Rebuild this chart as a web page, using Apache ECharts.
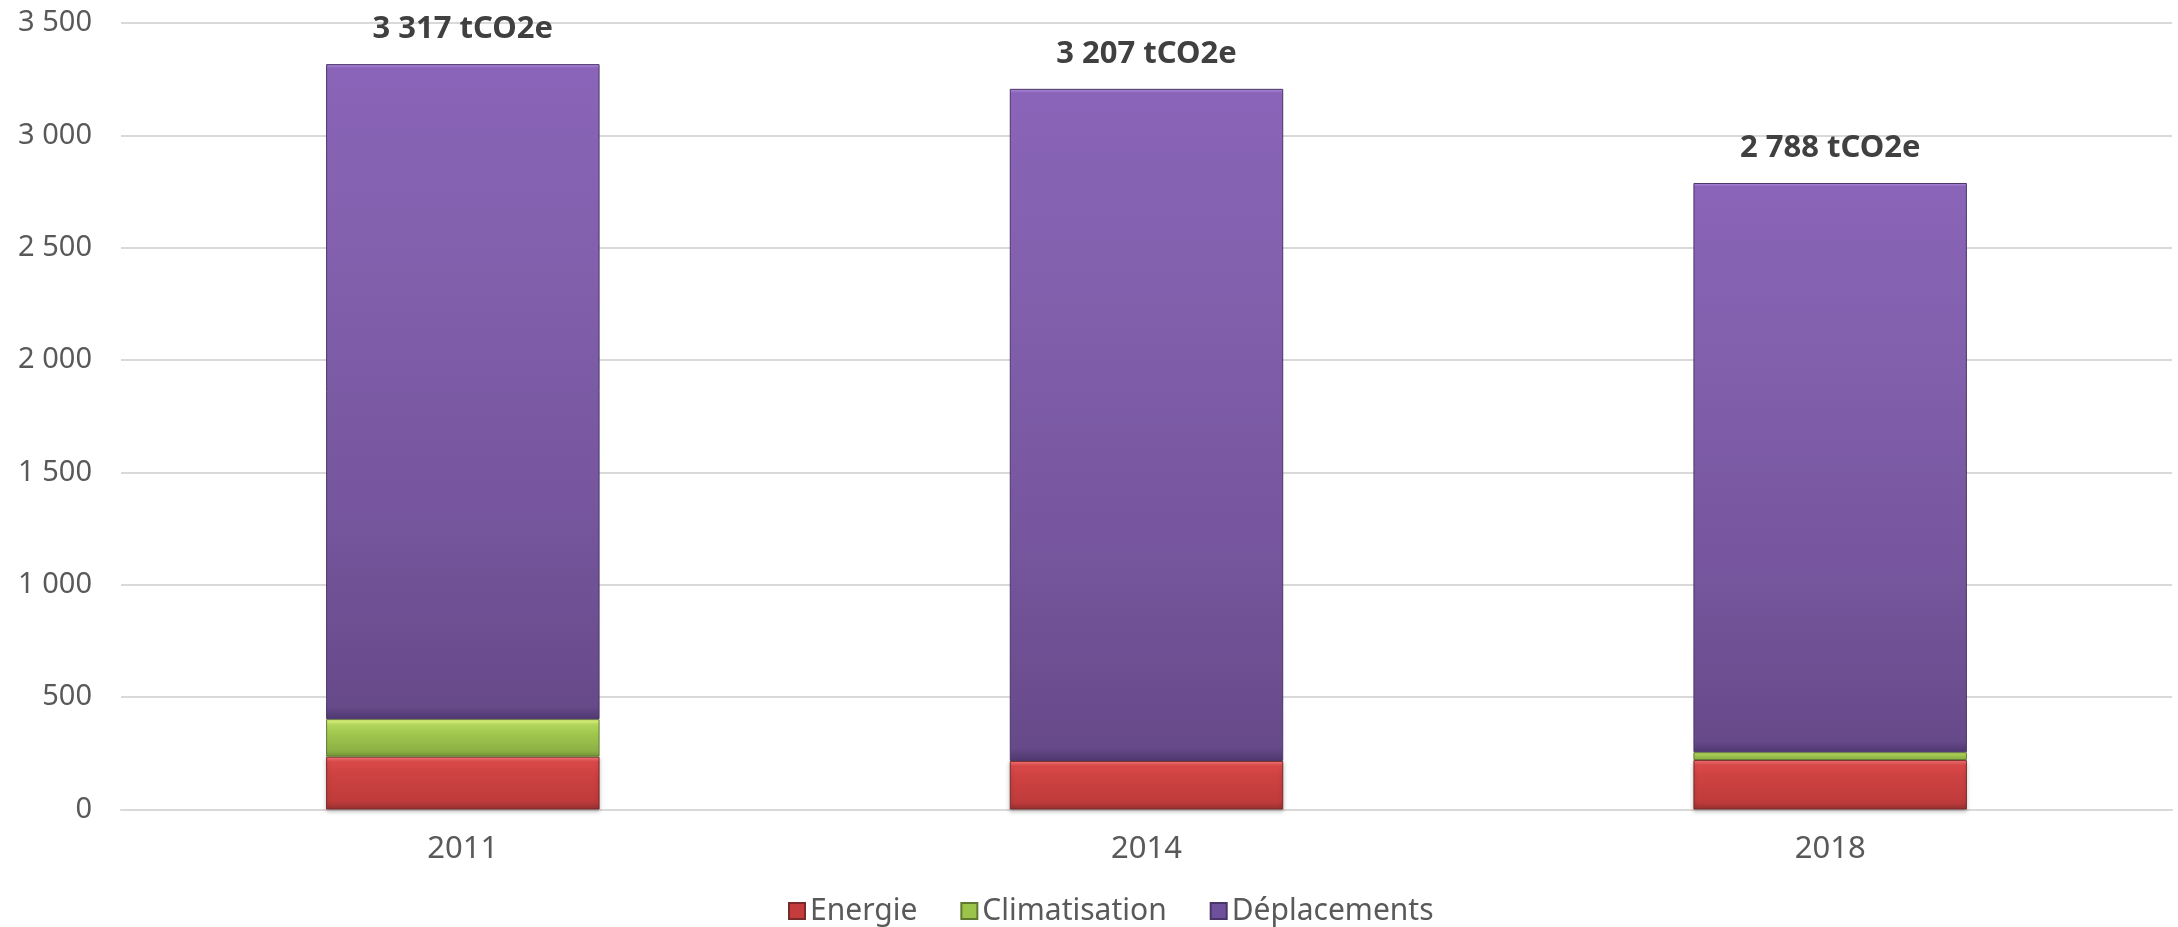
<!DOCTYPE html>
<html>
<head>
<meta charset="utf-8">
<script src="https://cdn.jsdelivr.net/npm/echarts@6/dist/echarts.min.js"></script>
<style>
html,body{margin:0;padding:0;background:#fff;}
#chart{width:2178px;height:927px;}
</style>
</head>
<body>
<div id="chart"></div>
<script>
const categories = ['2011', '2014', '2018'];
const energie = [235, 216, 220];
const climatisation = [167, 0, 35];
const deplacements = [2915, 2991, 2533];
const totals = [3317, 3207, 2788];
const seriesNames = ['Energie', 'Climatisation', 'Déplacements'];
const yTicks = { min: 0, max: 3500, interval: 500 };

const FONT = 'Noto Sans';
function fmt(v) { return String(v).replace(/\B(?=(\d{3})+(?!\d))/g, ' '); }
function grad(stops) {
  return new echarts.graphic.LinearGradient(0, 0, 0, 1, stops.map(s => ({ offset: s[0], color: s[1] })));
}

const chart = echarts.init(document.getElementById('chart'), null, { renderer: 'canvas' });
chart.setOption({
  animation: false,
  backgroundColor: '#ffffff',
  grid: { left: 121, right: 6, top: 23, bottom: 117.5, containLabel: false },
  legend: {
    bottom: -4,
    left: 783,
    itemWidth: 16,
    itemHeight: 16,
    itemGap: 43,
    icon: 'rect',
    textStyle: { fontFamily: FONT, fontSize: 30, color: '#595959', padding: [0, 0, 0, 0] },
    data: seriesNames.map((n, i) => ({
      name: n,
      itemStyle: { color: ['#c43c3c', '#9cc34a', '#6f509a'][i] }
    }))
  },
  xAxis: {
    type: 'category',
    data: categories,
    axisLine: { lineStyle: { color: '#d9d9d9', width: 2 } },
    axisTick: { show: false },
    axisLabel: { fontFamily: FONT, fontSize: 31, color: '#595959', margin: 24 }
  },
  yAxis: {
    type: 'value',
    min: yTicks.min,
    max: yTicks.max,
    interval: yTicks.interval,
    axisLine: { show: false },
    axisTick: { show: false },
    splitLine: { lineStyle: { color: '#d9d9d9', width: 2 } },
    axisLabel: { fontFamily: FONT, fontSize: 29, color: '#595959', margin: 29, formatter: fmt }
  },
  series: [
    {
      name: seriesNames[0], type: 'bar', stack: 'total', barWidth: '40%',
      data: energie,
      itemStyle: {
        color: grad([[0, '#ff7b7b'], [0.1, '#dc4a4a'], [0.3, '#cf4242'], [0.85, '#bf3b3b'], [1, '#953030']]),
        borderColor: '#7a2a2a', borderWidth: 1,
        shadowColor: 'rgba(0,0,0,0.25)', shadowBlur: 4, shadowOffsetY: 2
      }
    },
    {
      name: seriesNames[1], type: 'bar', stack: 'total', barWidth: '40%',
      data: climatisation.map(v => v === 0 ? '-' : v),
      itemStyle: {
        color: grad([[0, '#e2fa80'], [0.15, '#b2d45c'], [0.4, '#a0c64e'], [0.85, '#8cb044'], [1, '#6f8f35']]),
        borderColor: '#5f7a30', borderWidth: 1
      }
    },
    {
      name: seriesNames[2], type: 'bar', stack: 'total', barWidth: '40%',
      data: deplacements,
      itemStyle: {
        color: grad([[0, '#b08ee0'], [0.006, '#8a64b8'], [0.3, '#8260ad'], [0.7, '#75559c'], [0.98, '#674a8a'], [1, '#4e3870']]),
        borderColor: '#4a3568', borderWidth: 1
      },
      label: {
        show: true,
        position: 'top',
        distance: 19,
        fontFamily: FONT,
        fontSize: 31,
        fontWeight: 'bold',
        color: '#404040',
        formatter: p => fmt(totals[p.dataIndex]) + ' tCO2e'
      }
    }
  ]
});
</script>
</body>
</html>
